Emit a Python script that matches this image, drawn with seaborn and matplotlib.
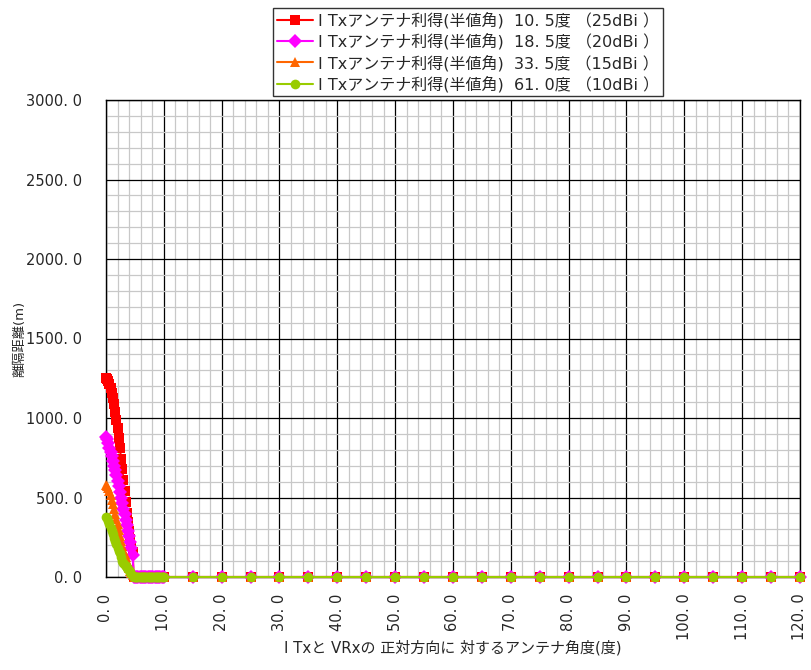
import numpy as np
import pandas as pd
import matplotlib
matplotlib.use('Agg')
import matplotlib.pyplot as plt
from matplotlib.ticker import MultipleLocator, FuncFormatter
import seaborn as sns

# angle (deg): fine steps near 0, then every 5 deg
angle_fine = [round(0.2 * i, 1) for i in range(51)]          # 0.0 .. 10.0
angle_coarse = [15, 20, 25, 30, 35, 40, 45, 50, 55, 60, 65, 70, 75, 80,
                85, 90, 95, 100, 105, 110, 115, 120]
angles = angle_fine + angle_coarse

# separation distance (m), 0.0 .. 4.6 deg
red_head = [1250, 1245, 1235, 1215, 1190, 1160, 1125, 1085, 1040, 990, 935, 875,
            810, 745, 680, 610, 540, 470, 405, 345, 290, 240, 195, 155]
mag_head = [883, 865, 840, 810, 785, 760, 730, 700, 670, 640, 605, 570,
            535, 500, 465, 430, 395, 360, 325, 290, 255, 220, 185, 140]
org_head = [580, 572, 558, 542, 515, 485, 457, 425, 395, 365, 336, 295,
            258, 225, 198, 172, 147, 125, 100, 80, 58, 40, 25, 12]
grn_head = [378, 370, 350, 334, 310, 288, 268, 248, 225, 205, 185, 165,
            150, 127, 103, 90, 78, 67, 58, 50, 44, 30, 18, 8]
n_tail = len(angles) - len(red_head)
zeros_tail = [0] * n_tail

labels = ['I Txアンテナ利得(半値角)  10. 5度 （25dBi ）',
          'I Txアンテナ利得(半値角)  18. 5度 （20dBi ）',
          'I Txアンテナ利得(半値角)  33. 5度 （15dBi ）',
          'I Txアンテナ利得(半値角)  61. 0度 （10dBi ）']
colors = ['#FF0000', '#FF00FF', '#FF6600', '#99CC00']
markers = ['s', 'D', '^', 'o']

series = [red_head, mag_head, org_head, grn_head]
frames = []
for lab, head in zip(labels, series):
    frames.append(pd.DataFrame({'angle': angles, 'dist': head + zeros_tail, 'series': lab}))
df = pd.concat(frames, ignore_index=True)

sns.set_style('white')
plt.rcParams['font.family'] = ['DejaVu Sans', 'Noto Sans CJK JP']

fig = plt.figure(figsize=(8.12, 6.7), dpi=100)
ax = fig.add_axes([106 / 812, 1 - 577 / 670, (800 - 106) / 812, (577 - 100) / 670])

ax.xaxis.set_major_locator(MultipleLocator(10))
ax.xaxis.set_minor_locator(MultipleLocator(2))
ax.yaxis.set_major_locator(MultipleLocator(500))
ax.yaxis.set_minor_locator(MultipleLocator(100))
ax.grid(which='minor', color='#C8C8C8', linewidth=0.9, zorder=0)
ax.grid(which='major', color='black', linewidth=0.9, zorder=0)
ax.set_axisbelow(True)

sns.lineplot(data=df, x='angle', y='dist', hue='series', style='series',
             palette=colors, markers=markers, dashes=False, markersize=7,
             markeredgewidth=0, linewidth=1.5, sort=False, ax=ax,
             clip_on=False, zorder=3)

ax.set_xlim(0, 120)
ax.set_ylim(0, 3000)
fmt = FuncFormatter(lambda v, p: ('%.1f' % v).replace('.', '. '))
ax.xaxis.set_major_formatter(fmt)
ax.yaxis.set_major_formatter(fmt)
ax.tick_params(axis='x', labelrotation=90, labelsize=10.5, length=0, pad=12)
ax.tick_params(axis='y', labelsize=10.5, length=0, pad=17)
for s in ax.spines.values():
    s.set_color('black')
    s.set_linewidth(1.0)

ax.set_xlabel('I Txと VRxの 正対方向に 対するアンテナ角度(度)', fontsize=10.8, labelpad=0)
ax.set_ylabel('離隔距離(m)', fontsize=9.5, labelpad=0)

handles, labs = ax.get_legend_handles_labels()
ax.get_legend().remove()
leg = fig.legend(handles, labs, loc='upper center', bbox_to_anchor=(468 / 812, 1 - 8 / 670),
                 ncol=1, fontsize=11.5, frameon=True, fancybox=False, edgecolor='black',
                 handlelength=2.3, handletextpad=0.3, labelspacing=0.3, borderpad=0.25,
                 borderaxespad=0)
leg.get_frame().set_linewidth(1.0)

fig.savefig('out.png', dpi=100)
